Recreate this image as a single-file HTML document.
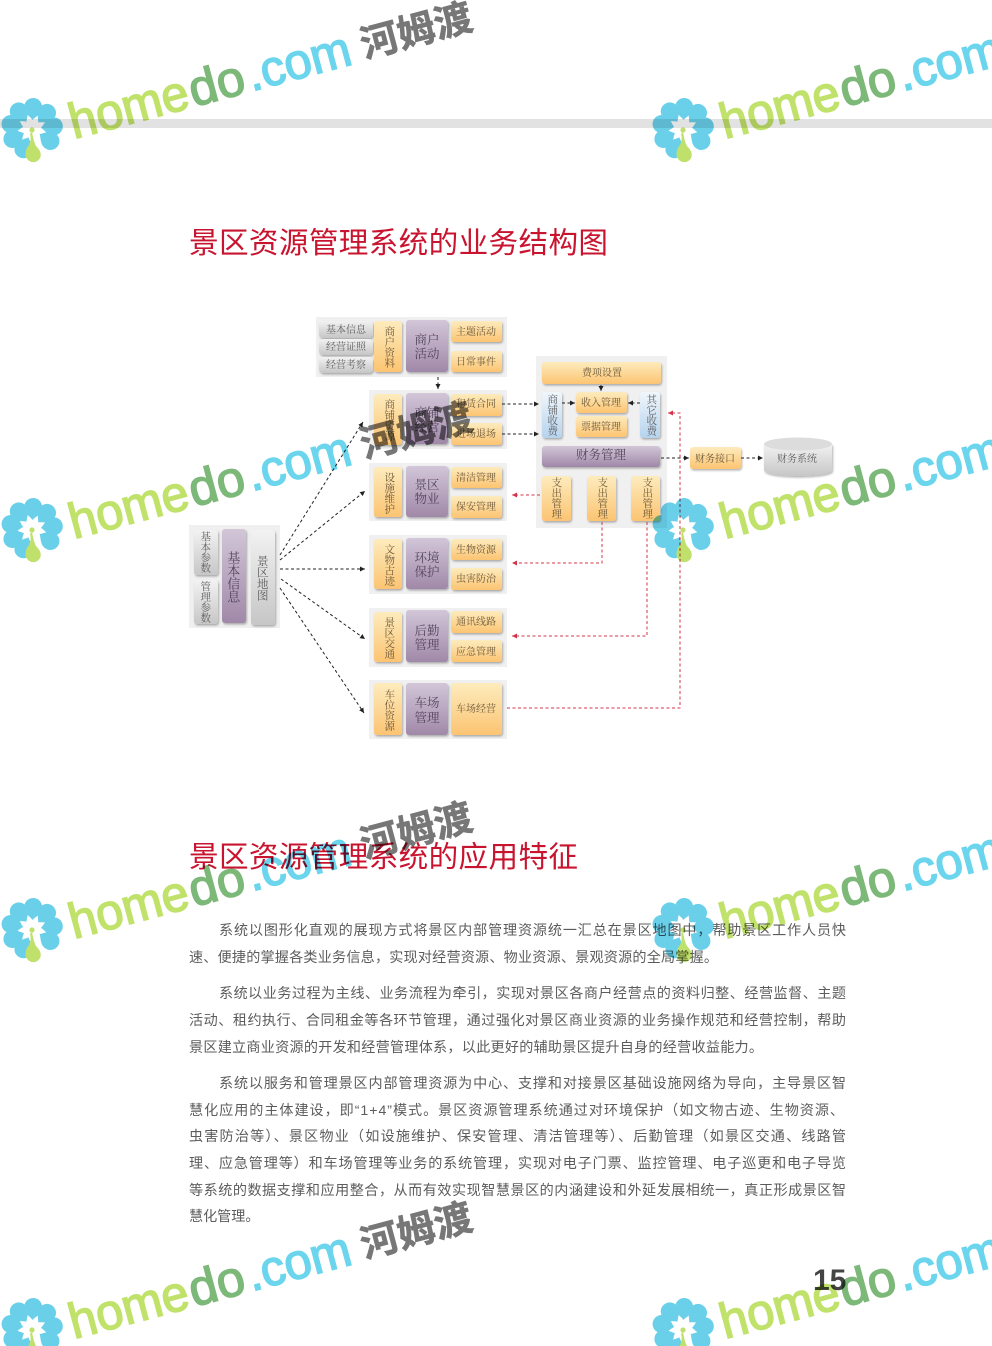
<!DOCTYPE html>
<html lang="zh">
<head>
<meta charset="utf-8">
<title>景区资源管理系统</title>
<style>
html,body{margin:0;padding:0;background:#fff}
body{width:992px;height:1346px;overflow:hidden}
svg{display:block}
.b{font-family:"Liberation Sans","Noto Sans CJK SC",sans-serif;font-size:14.1px;fill:#5c5c5c}
.t{font-family:"Liberation Sans","Noto Sans CJK SC",sans-serif;font-size:29.6px;fill:#c9142f}
.s{font-family:"Liberation Serif","Noto Serif CJK SC",serif;text-anchor:middle;fill:#6b583a;font-size:10px}
.sg{fill:#5f5f5f}.sp{fill:#55455c;font-size:12.5px}
.v{writing-mode:vertical-rl;font-size:10.5px;dominant-baseline:central;transform:translateX(-1.2px)}
.bg{fill:#f0f0f0}
.o{fill:url(#go);filter:url(#sh)}.p{fill:url(#gp);filter:url(#sh)}.g{fill:url(#gg);filter:url(#sh)}.bl{fill:url(#gb);filter:url(#sh)}
.k{fill:none;stroke:#222;stroke-width:1;stroke-dasharray:3 2.5}
.r{fill:none;stroke:#d3344a;stroke-width:1;stroke-dasharray:3 2.5}
.w1,.w2,.w3{font-family:"Liberation Sans",sans-serif;font-size:50px;stroke-width:1.5}
.w1{fill:#c0e26a;stroke:#c0e26a}
.w2{fill:#7cb878;stroke:#7cb878}
.w3{fill:#6ad5ec;stroke:#6ad5ec}
.w4{font-family:"Liberation Sans","Noto Sans CJK SC",sans-serif;font-size:38px;font-weight:700;fill:#777;stroke:#777;stroke-width:.6;text-anchor:middle}
.wm{mix-blend-mode:multiply}
</style>
</head>
<body>
<svg width="992" height="1346" viewBox="0 0 992 1346" xmlns="http://www.w3.org/2000/svg">
<defs>
<linearGradient id="go" x1="0" y1="0" x2="0" y2="1"><stop offset="0" stop-color="#fdebbd"/><stop offset="1" stop-color="#fcc472"/></linearGradient>
<linearGradient id="gp" x1="0" y1="0" x2="0" y2="1"><stop offset="0" stop-color="#d2c6d8"/><stop offset="1" stop-color="#a088a8"/></linearGradient>
<linearGradient id="gg" x1="0" y1="0" x2="0" y2="1"><stop offset="0" stop-color="#f2f2f2"/><stop offset="1" stop-color="#c6c6c6"/></linearGradient>
<linearGradient id="gb" x1="0" y1="0" x2="0" y2="1"><stop offset="0" stop-color="#f0f6fb"/><stop offset="1" stop-color="#b5d3ee"/></linearGradient>
<filter id="sh" x="-20%" y="-20%" width="140%" height="140%"><feDropShadow dx="1" dy="1.5" stdDeviation="1" flood-color="#000" flood-opacity=".3"/></filter>
<marker id="ak" markerWidth="6" markerHeight="5" refX="5" refY="2.5" orient="auto" markerUnits="userSpaceOnUse"><path d="M0,0L5,2.5L0,5Z" fill="#222"/></marker>
<marker id="ar" markerWidth="6" markerHeight="5" refX="5" refY="2.5" orient="auto" markerUnits="userSpaceOnUse"><path d="M0,0L5,2.5L0,5Z" fill="#d3344a"/></marker>
<path id="pt" d="M0,-9C-2,-12 -9,-15 -9,-22A9,9 0 1 1 9,-22C9,-15 2,-12 0,-9Z"/>
<g id="fl">
<g fill="#6ad0ea">
<use href="#pt" transform="rotate(-37)"/><use href="#pt" transform="rotate(3)"/><use href="#pt" transform="rotate(43)"/><use href="#pt" transform="rotate(83)"/><use href="#pt" transform="rotate(123)"/><use href="#pt" transform="rotate(203)"/><use href="#pt" transform="rotate(243)"/><use href="#pt" transform="rotate(283)"/>
</g>
<path fill="#bfe06a" d="M0,0C1,6 2,10 4,14C8,18 10,22 8,26A7.5,7.5 0 0 1 -4,28C-8,24 -7,18 -3,13C-1,9 -1,5 -2,2Z" transform="translate(0,3)"/>
<circle r="2.6" cy="1" fill="#bfe06a"/>
</g>
</defs>

<rect x="0" y="119" width="992" height="9" fill="#e2e2e2"/>

<text class="t" x="189" y="253" textLength="419">景区资源管理系统的业务结构图</text>

<!-- left group -->
<rect class="bg" x="189" y="525" width="91" height="103"/>
<rect class="g" x="194" y="530" width="24" height="45" rx="3"/><text class="s sg v" x="206" y="552">基本参数</text>
<rect class="g" x="194" y="580" width="24" height="44" rx="3"/><text class="s sg v" x="206" y="602">管理参数</text>
<rect class="p" x="222" y="529" width="24" height="94" rx="3"/><text class="s sp v" x="234" y="577" style="font-size:13px">基本信息</text>
<rect class="g" x="251" y="530" width="24" height="95" rx="3"/><text class="s sg v" x="263" y="578" style="font-size:11.5px">景区地图</text>

<!-- group 1 -->
<rect class="bg" x="316" y="317" width="191" height="60"/>
<rect class="g" x="319" y="321" width="54" height="17" rx="4"/><text class="s sg" x="346" y="333">基本信息</text>
<rect class="g" x="319" y="339" width="54" height="16" rx="4"/><text class="s sg" x="346" y="350">经营证照</text>
<rect class="g" x="319" y="357" width="54" height="16" rx="4"/><text class="s sg" x="346" y="368">经营考察</text>
<rect class="o" x="374" y="321" width="28" height="51" rx="3"/><text class="s v" x="390" y="347">商户资料</text>
<rect class="p" x="406" y="320" width="42" height="52" rx="3"/><text class="s sp" x="427" y="344">商户</text><text class="s sp" x="427" y="358">活动</text>
<rect class="o" x="451" y="321" width="51" height="21" rx="3"/><text class="s" x="476" y="335">主题活动</text>
<rect class="o" x="451" y="351" width="51" height="21" rx="3"/><text class="s" x="476" y="365">日常事件</text>

<!-- row 2 -->
<rect class="bg" x="369" y="390" width="138" height="59"/>
<rect class="o" x="374" y="394" width="28" height="51" rx="3"/><text class="s v" x="390" y="420">商铺资源</text>
<rect class="p" x="406" y="393" width="42" height="51" rx="3"/><text class="s sp" x="427" y="417">商铺</text><text class="s sp" x="427" y="431">经营</text>
<rect class="o" x="451" y="394" width="51" height="22" rx="3"/><text class="s" x="476" y="407">租赁合同</text>
<rect class="o" x="451" y="423" width="51" height="22" rx="3"/><text class="s" x="476" y="437">进场退场</text>

<!-- row 3 -->
<rect class="bg" x="369" y="463" width="138" height="58"/>
<rect class="o" x="374" y="467" width="28" height="50" rx="3"/><text class="s v" x="390" y="493">设施维护</text>
<rect class="p" x="406" y="466" width="42" height="51" rx="3"/><text class="s sp" x="427" y="489">景区</text><text class="s sp" x="427" y="503">物业</text>
<rect class="o" x="451" y="467" width="51" height="21" rx="3"/><text class="s" x="476" y="481">清洁管理</text>
<rect class="o" x="451" y="496" width="51" height="22" rx="3"/><text class="s" x="476" y="510">保安管理</text>

<!-- row 4 -->
<rect class="bg" x="369" y="535" width="138" height="59"/>
<rect class="o" x="374" y="539" width="28" height="50" rx="3"/><text class="s v" x="390" y="565">文物古迹</text>
<rect class="p" x="406" y="538" width="42" height="51" rx="3"/><text class="s sp" x="427" y="562">环境</text><text class="s sp" x="427" y="576">保护</text>
<rect class="o" x="451" y="539" width="51" height="21" rx="3"/><text class="s" x="476" y="553">生物资源</text>
<rect class="o" x="451" y="568" width="51" height="22" rx="3"/><text class="s" x="476" y="582">虫害防治</text>

<!-- row 5 -->
<rect class="bg" x="369" y="608" width="138" height="59"/>
<rect class="o" x="374" y="612" width="28" height="50" rx="3"/><text class="s v" x="390" y="638">景区交通</text>
<rect class="p" x="406" y="610" width="42" height="52" rx="3"/><text class="s sp" x="427" y="635">后勤</text><text class="s sp" x="427" y="649">管理</text>
<rect class="o" x="451" y="611" width="51" height="22" rx="3"/><text class="s" x="476" y="625">通讯线路</text>
<rect class="o" x="451" y="640" width="51" height="22" rx="3"/><text class="s" x="476" y="655">应急管理</text>

<!-- row 6 -->
<rect class="bg" x="369" y="680" width="138" height="59"/>
<rect class="o" x="374" y="683" width="28" height="52" rx="3"/><text class="s v" x="390" y="710">车位资源</text>
<rect class="p" x="406" y="683" width="42" height="52" rx="3"/><text class="s sp" x="427" y="707">车场</text><text class="s sp" x="427" y="722">管理</text>
<rect class="o" x="451" y="683" width="51" height="52" rx="3"/><text class="s" x="476" y="712">车场经营</text>

<!-- right group -->
<rect class="bg" x="536" y="356" width="131" height="172"/>
<rect class="o" x="542" y="362" width="119" height="22" rx="3"/><text class="s" x="602" y="376">费项设置</text>
<rect class="bl" x="542" y="392" width="20" height="46" rx="3"/><text class="s sg v" x="553" y="415">商铺收费</text>
<rect class="o" x="576" y="392" width="51" height="21" rx="3"/><text class="s" x="601" y="406">收入管理</text>
<rect class="o" x="576" y="416" width="51" height="21" rx="3"/><text class="s" x="601" y="430">票据管理</text>
<rect class="bl" x="640" y="392" width="20" height="46" rx="3"/><text class="s sg v" x="652" y="415">其它收费</text>
<rect x="542" y="446" width="118" height="21" rx="3" class="p"/><text class="s sp" x="601" y="459" style="font-size:12.5px">财务管理</text>
<rect class="o" x="542" y="476" width="29" height="45" rx="3"/><text class="s v" x="557" y="498">支出管理</text>
<rect class="o" x="587" y="476" width="29" height="45" rx="3"/><text class="s v" x="603" y="498">支出管理</text>
<rect class="o" x="631" y="476" width="29" height="45" rx="3"/><text class="s v" x="648" y="498">支出管理</text>

<rect class="o" x="690" y="447" width="51" height="22" rx="3"/><text class="s" x="715" y="462">财务接口</text>
<path d="M764,444V470C764,478 832,478 832,470V444Z" fill="url(#gg)" filter="url(#sh)"/>
<ellipse cx="798" cy="444" rx="34" ry="6.5" fill="#dcdcdc"/>
<text class="s sg" x="797" y="462">财务系统</text>

<!-- connectors -->
<path class="k" d="M438,377V389" marker-end="url(#ak)"/>
<path class="k" d="M502,404H539" marker-end="url(#ak)"/>
<path class="k" d="M502,434H539" marker-end="url(#ak)"/>
<path class="k" d="M562,403H575" marker-end="url(#ak)"/>
<path class="k" d="M640,403H628" marker-end="url(#ak)"/>
<path class="k" d="M601,385V391" marker-end="url(#ak)"/>
<path class="k" d="M661,458H689" marker-end="url(#ak)"/>
<path class="k" d="M741,458H763" marker-end="url(#ak)"/>
<path class="k" d="M280,555L363,422" marker-end="url(#ak)"/>
<path class="k" d="M280,560L365,491" marker-end="url(#ak)"/>
<path class="k" d="M280,569H365" marker-end="url(#ak)"/>
<path class="k" d="M281,579L365,639" marker-end="url(#ak)"/>
<path class="k" d="M280,588L364,713" marker-end="url(#ak)"/>
<path class="r" d="M540,495H512" marker-end="url(#ar)"/>
<path class="r" d="M602,522V563H512" marker-end="url(#ar)"/>
<path class="r" d="M647,522V636H512" marker-end="url(#ar)"/>
<path class="r" d="M507,708H680V413H668" marker-end="url(#ar)"/>

<text class="t" x="189" y="867" textLength="389">景区资源管理系统的应用特征</text>

<text class="b" x="219" y="935" textLength="627">系统以图形化直观的展现方式将景区内部管理资源统一汇总在景区地图中，帮助景区工作人员快</text>
<text class="b" x="189" y="962" textLength="529">速、便捷的掌握各类业务信息，实现对经营资源、物业资源、景观资源的全局掌握。</text>
<text class="b" x="219" y="998" textLength="627">系统以业务过程为主线、业务流程为牵引，实现对景区各商户经营点的资料归整、经营监督、主题</text>
<text class="b" x="189" y="1025" textLength="657">活动、租约执行、合同租金等各环节管理，通过强化对景区商业资源的业务操作规范和经营控制，帮助</text>
<text class="b" x="189" y="1052" textLength="574">景区建立商业资源的开发和经营管理体系，以此更好的辅助景区提升自身的经营收益能力。</text>
<text class="b" x="219" y="1088" textLength="627">系统以服务和管理景区内部管理资源为中心、支撑和对接景区基础设施网络为导向，主导景区智</text>
<text class="b" x="189" y="1115" textLength="655">慧化应用的主体建设，即“1+4”模式。景区资源管理系统通过对环境保护（如文物古迹、生物资源、</text>
<text class="b" x="189" y="1141" textLength="657">虫害防治等）、景区物业（如设施维护、保安管理、清洁管理等）、后勤管理（如景区交通、线路管</text>
<text class="b" x="189" y="1168" textLength="657">理、应急管理等）和车场管理等业务的系统管理，实现对电子门票、监控管理、电子巡更和电子导览</text>
<text class="b" x="189" y="1195" textLength="657">等系统的数据支撑和应用整合，从而有效实现智慧景区的内涵建设和外延发展相统一，真正形成景区智</text>
<text class="b" x="189" y="1221">慧化管理。</text>

<text x="813" y="1290" font-family="Liberation Sans, sans-serif" font-weight="700" font-size="30" fill="#444">15</text>

<!-- watermarks -->
<g class="wm">
<g transform="translate(0,0)">
<use href="#fl" transform="translate(32,129)"/>
<g transform="translate(74,139) rotate(-15)"><text class="w1" textLength="122" lengthAdjust="spacingAndGlyphs">home</text><text class="w2" x="124" textLength="56" lengthAdjust="spacingAndGlyphs">do</text><text class="w3" x="184" textLength="106" lengthAdjust="spacingAndGlyphs">.com</text></g>
<text class="w4" transform="translate(416,30) rotate(-15)" y="14">河姆渡</text>
</g>
<g transform="translate(651,0)">
<use href="#fl" transform="translate(32,129)"/>
<g transform="translate(74,139) rotate(-15)"><text class="w1" textLength="122" lengthAdjust="spacingAndGlyphs">home</text><text class="w2" x="124" textLength="56" lengthAdjust="spacingAndGlyphs">do</text><text class="w3" x="184" textLength="106" lengthAdjust="spacingAndGlyphs">.com</text></g>
</g>
<g transform="translate(0,400)">
<use href="#fl" transform="translate(32,129)"/>
<g transform="translate(74,139) rotate(-15)"><text class="w1" textLength="122" lengthAdjust="spacingAndGlyphs">home</text><text class="w2" x="124" textLength="56" lengthAdjust="spacingAndGlyphs">do</text><text class="w3" x="184" textLength="106" lengthAdjust="spacingAndGlyphs">.com</text></g>
<text class="w4" transform="translate(416,30) rotate(-15)" y="14">河姆渡</text>
</g>
<g transform="translate(651,400)">
<use href="#fl" transform="translate(32,129)"/>
<g transform="translate(74,139) rotate(-15)"><text class="w1" textLength="122" lengthAdjust="spacingAndGlyphs">home</text><text class="w2" x="124" textLength="56" lengthAdjust="spacingAndGlyphs">do</text><text class="w3" x="184" textLength="106" lengthAdjust="spacingAndGlyphs">.com</text></g>
</g>
<g transform="translate(0,800)">
<use href="#fl" transform="translate(32,129)"/>
<g transform="translate(74,139) rotate(-15)"><text class="w1" textLength="122" lengthAdjust="spacingAndGlyphs">home</text><text class="w2" x="124" textLength="56" lengthAdjust="spacingAndGlyphs">do</text><text class="w3" x="184" textLength="106" lengthAdjust="spacingAndGlyphs">.com</text></g>
<text class="w4" transform="translate(416,30) rotate(-15)" y="14">河姆渡</text>
</g>
<g transform="translate(651,800)">
<use href="#fl" transform="translate(32,129)"/>
<g transform="translate(74,139) rotate(-15)"><text class="w1" textLength="122" lengthAdjust="spacingAndGlyphs">home</text><text class="w2" x="124" textLength="56" lengthAdjust="spacingAndGlyphs">do</text><text class="w3" x="184" textLength="106" lengthAdjust="spacingAndGlyphs">.com</text></g>
</g>
<g transform="translate(0,1200)">
<use href="#fl" transform="translate(32,129)"/>
<g transform="translate(74,139) rotate(-15)"><text class="w1" textLength="122" lengthAdjust="spacingAndGlyphs">home</text><text class="w2" x="124" textLength="56" lengthAdjust="spacingAndGlyphs">do</text><text class="w3" x="184" textLength="106" lengthAdjust="spacingAndGlyphs">.com</text></g>
<text class="w4" transform="translate(416,30) rotate(-15)" y="14">河姆渡</text>
</g>
<g transform="translate(651,1200)">
<use href="#fl" transform="translate(32,129)"/>
<g transform="translate(74,139) rotate(-15)"><text class="w1" textLength="122" lengthAdjust="spacingAndGlyphs">home</text><text class="w2" x="124" textLength="56" lengthAdjust="spacingAndGlyphs">do</text><text class="w3" x="184" textLength="106" lengthAdjust="spacingAndGlyphs">.com</text></g>
</g>
</g>
</svg>
</body>
</html>
